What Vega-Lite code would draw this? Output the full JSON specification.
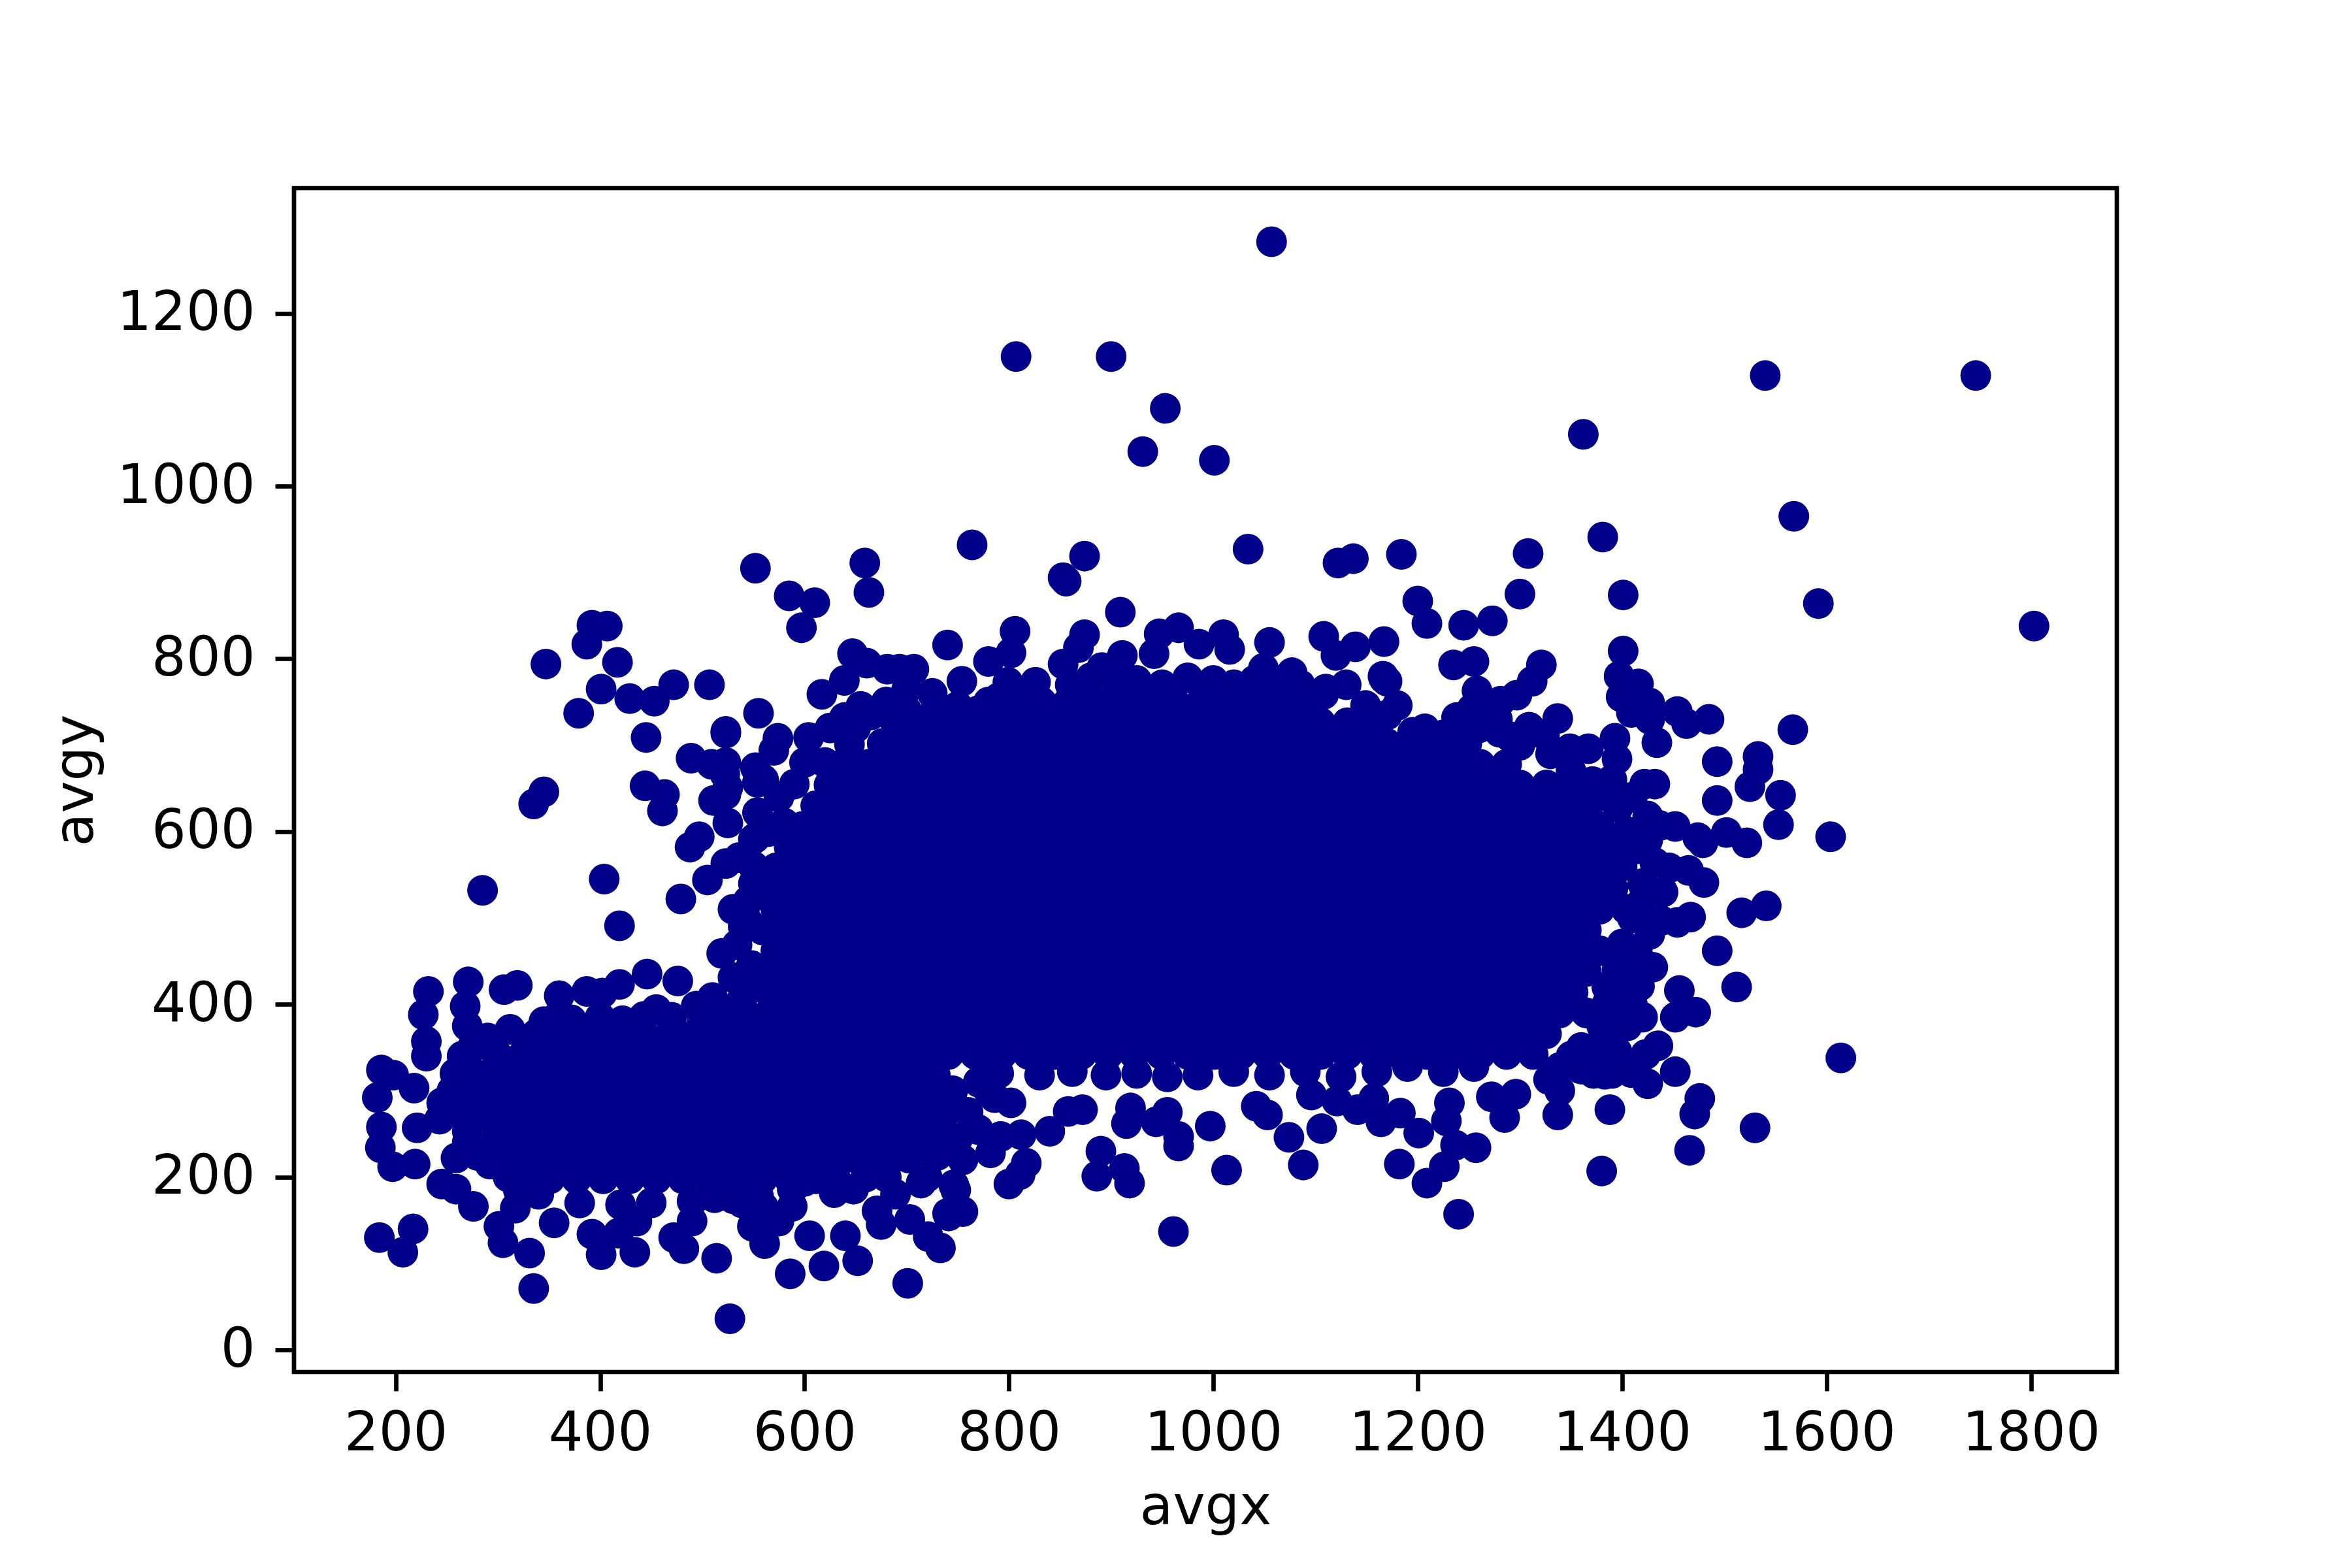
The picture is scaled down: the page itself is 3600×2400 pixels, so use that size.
{"$schema":"https://vega.github.io/schema/vega-lite/v6.json","width":2790,"height":1812,"autosize":{"type":"none"},"padding":{"left":450,"top":288,"right":360,"bottom":300},"background":"white","config":{"view":{"stroke":"black","strokeWidth":6.67},"axis":{"grid":false,"domain":false,"tickColor":"black","tickSize":29,"tickWidth":6.67,"labelFont":"DejaVu Sans","labelFontSize":83,"labelColor":"black","titleFont":"DejaVu Sans","titleFontSize":83,"titleFontWeight":"normal","titleColor":"black","labelOverlap":false,"labelFlush":false,"labelBound":false,"labelLimit":1000,"format":"d"}},"mark":{"type":"circle","color":"#00008b","opacity":1,"size":2209,"clip":false},"encoding":{"x":{"field":"avgx","type":"quantitative","title":"avgx","scale":{"domain":[100.5,1884],"nice":false,"zero":false},"axis":{"values":[200,400,600,800,1000,1200,1400,1600,1800],"labelPadding":24,"titlePadding":30}},"y":{"field":"avgy","type":"quantitative","title":"avgy","scale":{"domain":[-25.7,1345],"nice":false,"zero":false},"axis":{"values":[0,200,400,600,800,1000,1200],"labelPadding":31,"titlePadding":92}}},"data":{"values":[
{"avgx":1057,"avgy":1283},{"avgx":807,"avgy":1150},{"avgx":900,"avgy":1150},{"avgx":1540,"avgy":1128},{"avgx":1746,"avgy":1128},{"avgx":1362,"avgy":1060},{"avgx":953,"avgy":1090},{"avgx":931,"avgy":1040},{"avgx":1001,"avgy":1030},{"avgx":1568,"avgy":965},{"avgx":1381,"avgy":941},{"avgx":764,"avgy":932},{"avgx":1034,"avgy":927},{"avgx":874,"avgy":919},{"avgx":1308,"avgy":922},{"avgx":1184,"avgy":921},{"avgx":1137,"avgy":916},{"avgx":1122,"avgy":911},{"avgx":659,"avgy":911},{"avgx":552,"avgy":905},{"avgx":853,"avgy":894},{"avgx":856,"avgy":890},{"avgx":663,"avgy":877},{"avgx":1401,"avgy":874},{"avgx":585,"avgy":873},{"avgx":1300,"avgy":875},{"avgx":1200,"avgy":867},{"avgx":610,"avgy":865},{"avgx":1592,"avgy":864},{"avgx":909,"avgy":854},{"avgx":1273,"avgy":844},{"avgx":1245,"avgy":839},{"avgx":1209,"avgy":841},{"avgx":597,"avgy":836},{"avgx":1803,"avgy":838},{"avgx":806,"avgy":832},{"avgx":802,"avgy":807},{"avgx":740,"avgy":816},{"avgx":780,"avgy":797},{"avgx":647,"avgy":806},{"avgx":661,"avgy":795},{"avgx":681,"avgy":788},{"avgx":693,"avgy":788},{"avgx":707,"avgy":788},{"avgx":639,"avgy":775},{"avgx":617,"avgy":759},{"avgx":754,"avgy":774},{"avgx":799,"avgy":773},{"avgx":826,"avgy":773},{"avgx":874,"avgy":828},{"avgx":868,"avgy":813},{"avgx":853,"avgy":794},{"avgx":911,"avgy":804},{"avgx":891,"avgy":790},{"avgx":947,"avgy":829},{"avgx":966,"avgy":836},{"avgx":942,"avgy":806},{"avgx":986,"avgy":817},{"avgx":1010,"avgy":828},{"avgx":1016,"avgy":811},{"avgx":1055,"avgy":819},{"avgx":1077,"avgy":784},{"avgx":1049,"avgy":789},{"avgx":1108,"avgy":826},{"avgx":1120,"avgy":804},{"avgx":1139,"avgy":814},{"avgx":1167,"avgy":820},{"avgx":1167,"avgy":777},{"avgx":1180,"avgy":746},{"avgx":1149,"avgy":746},{"avgx":1207,"avgy":719},{"avgx":1108,"avgy":759},{"avgx":555,"avgy":737},{"avgx":523,"avgy":714},{"avgx":639,"avgy":732},{"avgx":604,"avgy":709},{"avgx":574,"avgy":708},{"avgx":644,"avgy":701},{"avgx":570,"avgy":694},{"avgx":552,"avgy":674},{"avgx":523,"avgy":680},{"avgx":525,"avgy":651},{"avgx":554,"avgy":657},{"avgx":554,"avgy":622},{"avgx":525,"avgy":610},{"avgx":552,"avgy":593},{"avgx":536,"avgy":570},{"avgx":530,"avgy":510},{"avgx":1235,"avgy":793},{"avgx":1255,"avgy":797},{"avgx":1321,"avgy":793},{"avgx":1401,"avgy":809},{"avgx":1166,"avgy":780},{"avgx":1170,"avgy":774},{"avgx":1312,"avgy":774},{"avgx":1297,"avgy":758},{"avgx":1258,"avgy":763},{"avgx":1281,"avgy":751},{"avgx":1253,"avgy":742},{"avgx":1238,"avgy":732},{"avgx":1278,"avgy":730},{"avgx":1337,"avgy":731},{"avgx":1309,"avgy":721},{"avgx":1324,"avgy":712},{"avgx":1397,"avgy":780},{"avgx":1416,"avgy":771},{"avgx":1399,"avgy":756},{"avgx":1427,"avgy":749},{"avgx":1409,"avgy":738},{"avgx":1427,"avgy":730},{"avgx":1454,"avgy":739},{"avgx":1463,"avgy":725},{"avgx":1485,"avgy":730},{"avgx":1567,"avgy":718},{"avgx":1393,"avgy":708},{"avgx":1434,"avgy":703},{"avgx":1349,"avgy":696},{"avgx":1367,"avgy":696},{"avgx":1395,"avgy":684},{"avgx":1493,"avgy":681},{"avgx":1533,"avgy":687},{"avgx":1533,"avgy":672},{"avgx":1525,"avgy":652},{"avgx":1555,"avgy":642},{"avgx":1493,"avgy":636},{"avgx":1432,"avgy":655},{"avgx":1422,"avgy":655},{"avgx":1371,"avgy":658},{"avgx":1396,"avgy":628},{"avgx":1425,"avgy":618},{"avgx":1437,"avgy":607},{"avgx":1452,"avgy":606},{"avgx":1474,"avgy":593},{"avgx":1502,"avgy":599},{"avgx":1522,"avgy":587},{"avgx":1553,"avgy":608},{"avgx":1604,"avgy":594},{"avgx":1479,"avgy":587},{"avgx":1432,"avgy":564},{"avgx":1446,"avgy":558},{"avgx":1465,"avgy":555},{"avgx":1480,"avgy":541},{"avgx":1419,"avgy":518},{"avgx":1517,"avgy":506},{"avgx":1541,"avgy":514},{"avgx":1467,"avgy":501},{"avgx":1454,"avgy":495},{"avgx":1438,"avgy":497},{"avgx":1427,"avgy":481},{"avgx":1493,"avgy":462},{"avgx":1512,"avgy":420},{"avgx":1430,"avgy":443},{"avgx":1456,"avgy":416},{"avgx":1417,"avgy":421},{"avgx":1472,"avgy":391},{"avgx":1452,"avgy":385},{"avgx":1399,"avgy":400},{"avgx":1396,"avgy":373},{"avgx":1435,"avgy":352},{"avgx":1380,"avgy":344},{"avgx":1423,"avgy":342},{"avgx":1452,"avgy":322},{"avgx":1409,"avgy":321},{"avgx":1425,"avgy":308},{"avgx":1372,"avgy":320},{"avgx":1383,"avgy":319},{"avgx":1339,"avgy":327},{"avgx":1328,"avgy":313},{"avgx":1339,"avgy":300},{"avgx":1296,"avgy":296},{"avgx":1285,"avgy":269},{"avgx":1337,"avgy":272},{"avgx":1388,"avgy":278},{"avgx":1476,"avgy":291},{"avgx":1471,"avgy":273},{"avgx":1530,"avgy":257},{"avgx":1466,"avgy":231},{"avgx":1380,"avgy":207},{"avgx":1614,"avgy":338},{"avgx":1240,"avgy":157},{"avgx":961,"avgy":137},{"avgx":1272,"avgy":293},{"avgx":1257,"avgy":234},{"avgx":1237,"avgy":237},{"avgx":1226,"avgy":212},{"avgx":1209,"avgy":193},{"avgx":1182,"avgy":215},{"avgx":1201,"avgy":251},{"avgx":1228,"avgy":265},{"avgx":1231,"avgy":286},{"avgx":1183,"avgy":274},{"avgx":1164,"avgy":264},{"avgx":1157,"avgy":291},{"avgx":1141,"avgy":278},{"avgx":1106,"avgy":256},{"avgx":1074,"avgy":246},{"avgx":1088,"avgy":214},{"avgx":1053,"avgy":272},{"avgx":1042,"avgy":282},{"avgx":1096,"avgy":295},{"avgx":1121,"avgy":288},{"avgx":997,"avgy":259},{"avgx":1013,"avgy":208},{"avgx":966,"avgy":247},{"avgx":966,"avgy":236},{"avgx":944,"avgy":264},{"avgx":955,"avgy":275},{"avgx":915,"avgy":262},{"avgx":919,"avgy":280},{"avgx":890,"avgy":230},{"avgx":886,"avgy":201},{"avgx":913,"avgy":210},{"avgx":918,"avgy":193},{"avgx":840,"avgy":253},{"avgx":812,"avgy":249},{"avgx":792,"avgy":247},{"avgx":782,"avgy":228},{"avgx":817,"avgy":216},{"avgx":811,"avgy":203},{"avgx":800,"avgy":192},{"avgx":746,"avgy":191},{"avgx":755,"avgy":160},{"avgx":740,"avgy":158},{"avgx":748,"avgy":185},{"avgx":721,"avgy":131},{"avgx":733,"avgy":118},{"avgx":701,"avgy":77},{"avgx":802,"avgy":286},{"avgx":786,"avgy":292},{"avgx":872,"avgy":278},{"avgx":858,"avgy":276},{"avgx":285,"avgy":532},{"avgx":404,"avgy":545},{"avgx":419,"avgy":491},{"avgx":479,"avgy":522},{"avgx":505,"avgy":544},{"avgx":232,"avgy":415},{"avgx":271,"avgy":426},{"avgx":306,"avgy":417},{"avgx":319,"avgy":422},{"avgx":360,"avgy":410},{"avgx":387,"avgy":415},{"avgx":402,"avgy":413},{"avgx":419,"avgy":423},{"avgx":446,"avgy":435},{"avgx":476,"avgy":427},{"avgx":510,"avgy":408},{"avgx":494,"avgy":398},{"avgx":455,"avgy":394},{"avgx":443,"avgy":386},{"avgx":422,"avgy":381},{"avgx":360,"avgy":388},{"avgx":268,"avgy":398},{"avgx":227,"avgy":388},{"avgx":270,"avgy":375},{"avgx":230,"avgy":357},{"avgx":230,"avgy":340},{"avgx":290,"avgy":361},{"avgx":312,"avgy":371},{"avgx":334,"avgy":357},{"avgx":543,"avgy":373},{"avgx":186,"avgy":324},{"avgx":198,"avgy":318},{"avgx":218,"avgy":303},{"avgx":182,"avgy":292},{"avgx":186,"avgy":258},{"avgx":185,"avgy":234},{"avgx":197,"avgy":212},{"avgx":219,"avgy":215},{"avgx":245,"avgy":286},{"avgx":268,"avgy":296},{"avgx":221,"avgy":257},{"avgx":243,"avgy":267},{"avgx":270,"avgy":253},{"avgx":259,"avgy":222},{"avgx":292,"avgy":215},{"avgx":245,"avgy":192},{"avgx":259,"avgy":186},{"avgx":276,"avgy":166},{"avgx":317,"avgy":164},{"avgx":301,"avgy":143},{"avgx":305,"avgy":124},{"avgx":331,"avgy":112},{"avgx":335,"avgy":71},{"avgx":217,"avgy":140},{"avgx":184,"avgy":130},{"avgx":207,"avgy":113},{"avgx":355,"avgy":147},{"avgx":392,"avgy":134},{"avgx":401,"avgy":110},{"avgx":434,"avgy":113},{"avgx":418,"avgy":135},{"avgx":436,"avgy":149},{"avgx":482,"avgy":117},{"avgx":472,"avgy":130},{"avgx":490,"avgy":149},{"avgx":514,"avgy":106},{"avgx":549,"avgy":143},{"avgx":561,"avgy":123},{"avgx":575,"avgy":149},{"avgx":588,"avgy":166},{"avgx":605,"avgy":132},{"avgx":640,"avgy":132},{"avgx":586,"avgy":88},{"avgx":619,"avgy":97},{"avgx":652,"avgy":103},{"avgx":527,"avgy":36},{"avgx":675,"avgy":145},{"avgx":671,"avgy":161},{"avgx":703,"avgy":151},{"avgx":741,"avgy":155},{"avgx":714,"avgy":193},{"avgx":689,"avgy":180},{"avgx":629,"avgy":182},{"avgx":648,"avgy":186},{"avgx":588,"avgy":186},{"avgx":512,"avgy":176},{"avgx":539,"avgy":170},{"avgx":555,"avgy":178},{"avgx":347,"avgy":794},{"avgx":387,"avgy":817},{"avgx":392,"avgy":839},{"avgx":407,"avgy":838},{"avgx":417,"avgy":796},{"avgx":401,"avgy":765},{"avgx":379,"avgy":737},{"avgx":429,"avgy":754},{"avgx":453,"avgy":751},{"avgx":472,"avgy":770},{"avgx":507,"avgy":770},{"avgx":445,"avgy":709},{"avgx":444,"avgy":653},{"avgx":463,"avgy":643},{"avgx":461,"avgy":624},{"avgx":345,"avgy":646},{"avgx":335,"avgy":632},{"avgx":489,"avgy":685},{"avgx":509,"avgy":678},{"avgx":522,"avgy":667},{"avgx":523,"avgy":716},{"avgx":511,"avgy":636},{"avgx":523,"avgy":643},{"avgx":497,"avgy":594},{"avgx":488,"avgy":582},{"avgx":523,"avgy":563},{"avgx":550,"avgy":591},{"avgx":519,"avgy":459},{"avgx":534,"avgy":469},{"avgx":530,"avgy":431},{"avgx":539,"avgy":406},{"avgx":568,"avgy":410},{"avgx":590,"avgy":483},{"avgx":550,"avgy":540},{"avgx":545,"avgy":495},
{"avgx":720,"avgy":300},{"avgx":745,"avgy":300},{"avgx":770,"avgy":310},{"avgx":735,"avgy":270},{"avgx":760,"avgy":275},{"avgx":780,"avgy":300},{"avgx":790,"avgy":320},{"avgx":750,"avgy":245},{"avgx":725,"avgy":250},{"avgx":770,"avgy":255},{"avgx":730,"avgy":225},{"avgx":755,"avgy":220},{"avgx":720,"avgy":200},{"avgx":1385,"avgy":400},{"avgx":1380,"avgy":375},{"avgx":1360,"avgy":350},{"avgx":1350,"avgy":340},{"avgx":1395,"avgy":345},{"avgx":1405,"avgy":375},{"avgx":1390,"avgy":320},{"avgx":1410,"avgy":400},{"avgx":1420,"avgy":385},{"avgx":1360,"avgy":325},{"avgx":1300,"avgy":700},{"avgx":1280,"avgy":715},{"avgx":1330,"avgy":690},{"avgx":1350,"avgy":670},{"avgx":1390,"avgy":660},{"avgx":1375,"avgy":640},{"avgx":1410,"avgy":640},{"avgx":1405,"avgy":600},{"avgx":1415,"avgy":580},{"avgx":1400,"avgy":560},{"avgx":1425,"avgy":590},{"avgx":1420,"avgy":540},{"avgx":1440,"avgy":530},{"avgx":1410,"avgy":500},{"avgx":1400,"avgy":470},{"avgx":1415,"avgy":460},{"avgx":1395,"avgy":440},{"avgx":1405,"avgy":430},{"avgx":1385,"avgy":420},{"avgx":860,"avgy":770},{"avgx":880,"avgy":778},{"avgx":905,"avgy":772},{"avgx":925,"avgy":775},{"avgx":950,"avgy":770},{"avgx":975,"avgy":778},{"avgx":1000,"avgy":775},{"avgx":1020,"avgy":770},{"avgx":1040,"avgy":775},{"avgx":1060,"avgy":770},{"avgx":1085,"avgy":770},{"avgx":1110,"avgy":765},{"avgx":1130,"avgy":770},{"avgx":1150,"avgy":725},{"avgx":1170,"avgy":735},{"avgx":1195,"avgy":715},{"avgx":1225,"avgy":712},{"avgx":1260,"avgy":720},{"avgx":1290,"avgy":710},{"avgx":810,"avgy":760},{"avgx":790,"avgy":755},{"avgx":770,"avgy":740},{"avgx":750,"avgy":745},{"avgx":725,"avgy":735},{"avgx":700,"avgy":740},{"avgx":680,"avgy":750},{"avgx":665,"avgy":735},{"avgx":650,"avgy":720},{"avgx":700,"avgy":765},{"avgx":725,"avgy":760},{"avgx":560,"avgy":660},{"avgx":575,"avgy":640},{"avgx":590,"avgy":655},{"avgx":600,"avgy":680},{"avgx":620,"avgy":680},{"avgx":625,"avgy":720},{"avgx":655,"avgy":745},{"avgx":580,"avgy":610},{"avgx":565,"avgy":600},{"avgx":550,"avgy":560},{"avgx":545,"avgy":520},{"avgx":540,"avgy":490},{"avgx":548,"avgy":445},{"avgx":555,"avgy":420},{"avgx":575,"avgy":400},{"avgx":520,"avgy":395},{"avgx":535,"avgy":390},{"avgx":560,"avgy":385},{"avgx":275,"avgy":350},{"avgx":265,"avgy":340},{"avgx":258,"avgy":320},{"avgx":255,"avgy":300},{"avgx":262,"avgy":275},{"avgx":270,"avgy":240},{"avgx":280,"avgy":225},{"avgx":295,"avgy":235},{"avgx":310,"avgy":200},{"avgx":320,"avgy":185},{"avgx":340,"avgy":180},{"avgx":380,"avgy":170},{"avgx":420,"avgy":168},{"avgx":450,"avgy":170},{"avgx":490,"avgy":172},{"avgx":530,"avgy":175},{"avgx":560,"avgy":165},{"avgx":600,"avgy":195},{"avgx":630,"avgy":200},{"avgx":660,"avgy":200},{"avgx":680,"avgy":200},{"avgx":345,"avgy":380},{"avgx":372,"avgy":382},{"avgx":400,"avgy":385},{"avgx":470,"avgy":385},{"avgx":500,"avgy":380},{"avgx":525,"avgy":385},{"avgx":555,"avgy":380},{"avgx":775,"avgy":316},{"avgx":830,"avgy":318},{"avgx":862,"avgy":322},{"avgx":895,"avgy":318},{"avgx":925,"avgy":320},{"avgx":955,"avgy":316},{"avgx":985,"avgy":318},{"avgx":1020,"avgy":322},{"avgx":1055,"avgy":318},{"avgx":1090,"avgy":322},{"avgx":1125,"avgy":316},{"avgx":1160,"avgy":322},{"avgx":1190,"avgy":328},{"avgx":1225,"avgy":322},{"avgx":1255,"avgy":328},
{"avgx":780,"avgy":750},{"avgx":806,"avgy":750},{"avgx":832,"avgy":750},{"avgx":858,"avgy":750},{"avgx":884,"avgy":750},{"avgx":910,"avgy":750},{"avgx":936,"avgy":750},{"avgx":962,"avgy":750},{"avgx":988,"avgy":750},{"avgx":1014,"avgy":750},{"avgx":1040,"avgy":750},{"avgx":1066,"avgy":750},{"avgx":1092,"avgy":750},
{"avgx":689,"avgy":726},{"avgx":715,"avgy":726},{"avgx":741,"avgy":726},{"avgx":767,"avgy":726},{"avgx":793,"avgy":726},{"avgx":819,"avgy":726},{"avgx":845,"avgy":726},{"avgx":871,"avgy":726},{"avgx":897,"avgy":726},{"avgx":923,"avgy":726},{"avgx":949,"avgy":726},{"avgx":975,"avgy":726},{"avgx":1001,"avgy":726},{"avgx":1027,"avgy":726},{"avgx":1053,"avgy":726},{"avgx":1079,"avgy":726},{"avgx":1105,"avgy":726},{"avgx":1131,"avgy":726},{"avgx":1157,"avgy":726},
{"avgx":676,"avgy":702},{"avgx":702,"avgy":702},{"avgx":728,"avgy":702},{"avgx":754,"avgy":702},{"avgx":780,"avgy":702},{"avgx":806,"avgy":702},{"avgx":832,"avgy":702},{"avgx":858,"avgy":702},{"avgx":884,"avgy":702},{"avgx":910,"avgy":702},{"avgx":936,"avgy":702},{"avgx":962,"avgy":702},{"avgx":988,"avgy":702},{"avgx":1014,"avgy":702},{"avgx":1040,"avgy":702},{"avgx":1066,"avgy":702},{"avgx":1092,"avgy":702},{"avgx":1118,"avgy":702},{"avgx":1144,"avgy":702},{"avgx":1170,"avgy":702},{"avgx":1196,"avgy":702},{"avgx":1222,"avgy":702},{"avgx":1248,"avgy":702},
{"avgx":637,"avgy":678},{"avgx":663,"avgy":678},{"avgx":689,"avgy":678},{"avgx":715,"avgy":678},{"avgx":741,"avgy":678},{"avgx":767,"avgy":678},{"avgx":793,"avgy":678},{"avgx":819,"avgy":678},{"avgx":845,"avgy":678},{"avgx":871,"avgy":678},{"avgx":897,"avgy":678},{"avgx":923,"avgy":678},{"avgx":949,"avgy":678},{"avgx":975,"avgy":678},{"avgx":1001,"avgy":678},{"avgx":1027,"avgy":678},{"avgx":1053,"avgy":678},{"avgx":1079,"avgy":678},{"avgx":1105,"avgy":678},{"avgx":1131,"avgy":678},{"avgx":1157,"avgy":678},{"avgx":1183,"avgy":678},{"avgx":1209,"avgy":678},{"avgx":1235,"avgy":678},{"avgx":1261,"avgy":678},{"avgx":1287,"avgy":678},
{"avgx":624,"avgy":654},{"avgx":650,"avgy":654},{"avgx":676,"avgy":654},{"avgx":702,"avgy":654},{"avgx":728,"avgy":654},{"avgx":754,"avgy":654},{"avgx":780,"avgy":654},{"avgx":806,"avgy":654},{"avgx":832,"avgy":654},{"avgx":858,"avgy":654},{"avgx":884,"avgy":654},{"avgx":910,"avgy":654},{"avgx":936,"avgy":654},{"avgx":962,"avgy":654},{"avgx":988,"avgy":654},{"avgx":1014,"avgy":654},{"avgx":1040,"avgy":654},{"avgx":1066,"avgy":654},{"avgx":1092,"avgy":654},{"avgx":1118,"avgy":654},{"avgx":1144,"avgy":654},{"avgx":1170,"avgy":654},{"avgx":1196,"avgy":654},{"avgx":1222,"avgy":654},{"avgx":1248,"avgy":654},{"avgx":1274,"avgy":654},{"avgx":1300,"avgy":654},{"avgx":1326,"avgy":654},{"avgx":1352,"avgy":654},
{"avgx":611,"avgy":630},{"avgx":637,"avgy":630},{"avgx":663,"avgy":630},{"avgx":689,"avgy":630},{"avgx":715,"avgy":630},{"avgx":741,"avgy":630},{"avgx":767,"avgy":630},{"avgx":793,"avgy":630},{"avgx":819,"avgy":630},{"avgx":845,"avgy":630},{"avgx":871,"avgy":630},{"avgx":897,"avgy":630},{"avgx":923,"avgy":630},{"avgx":949,"avgy":630},{"avgx":975,"avgy":630},{"avgx":1001,"avgy":630},{"avgx":1027,"avgy":630},{"avgx":1053,"avgy":630},{"avgx":1079,"avgy":630},{"avgx":1105,"avgy":630},{"avgx":1131,"avgy":630},{"avgx":1157,"avgy":630},{"avgx":1183,"avgy":630},{"avgx":1209,"avgy":630},{"avgx":1235,"avgy":630},{"avgx":1261,"avgy":630},{"avgx":1287,"avgy":630},{"avgx":1313,"avgy":630},{"avgx":1339,"avgy":630},{"avgx":1365,"avgy":630},
{"avgx":598,"avgy":606},{"avgx":624,"avgy":606},{"avgx":650,"avgy":606},{"avgx":676,"avgy":606},{"avgx":702,"avgy":606},{"avgx":728,"avgy":606},{"avgx":754,"avgy":606},{"avgx":780,"avgy":606},{"avgx":806,"avgy":606},{"avgx":832,"avgy":606},{"avgx":858,"avgy":606},{"avgx":884,"avgy":606},{"avgx":910,"avgy":606},{"avgx":936,"avgy":606},{"avgx":962,"avgy":606},{"avgx":988,"avgy":606},{"avgx":1014,"avgy":606},{"avgx":1040,"avgy":606},{"avgx":1066,"avgy":606},{"avgx":1092,"avgy":606},{"avgx":1118,"avgy":606},{"avgx":1144,"avgy":606},{"avgx":1170,"avgy":606},{"avgx":1196,"avgy":606},{"avgx":1222,"avgy":606},{"avgx":1248,"avgy":606},{"avgx":1274,"avgy":606},{"avgx":1300,"avgy":606},{"avgx":1326,"avgy":606},{"avgx":1352,"avgy":606},{"avgx":1378,"avgy":606},
{"avgx":585,"avgy":582},{"avgx":611,"avgy":582},{"avgx":637,"avgy":582},{"avgx":663,"avgy":582},{"avgx":689,"avgy":582},{"avgx":715,"avgy":582},{"avgx":741,"avgy":582},{"avgx":767,"avgy":582},{"avgx":793,"avgy":582},{"avgx":819,"avgy":582},{"avgx":845,"avgy":582},{"avgx":871,"avgy":582},{"avgx":897,"avgy":582},{"avgx":923,"avgy":582},{"avgx":949,"avgy":582},{"avgx":975,"avgy":582},{"avgx":1001,"avgy":582},{"avgx":1027,"avgy":582},{"avgx":1053,"avgy":582},{"avgx":1079,"avgy":582},{"avgx":1105,"avgy":582},{"avgx":1131,"avgy":582},{"avgx":1157,"avgy":582},{"avgx":1183,"avgy":582},{"avgx":1209,"avgy":582},{"avgx":1235,"avgy":582},{"avgx":1261,"avgy":582},{"avgx":1287,"avgy":582},{"avgx":1313,"avgy":582},{"avgx":1339,"avgy":582},{"avgx":1365,"avgy":582},{"avgx":1391,"avgy":582},
{"avgx":572,"avgy":558},{"avgx":598,"avgy":558},{"avgx":624,"avgy":558},{"avgx":650,"avgy":558},{"avgx":676,"avgy":558},{"avgx":702,"avgy":558},{"avgx":728,"avgy":558},{"avgx":754,"avgy":558},{"avgx":780,"avgy":558},{"avgx":806,"avgy":558},{"avgx":832,"avgy":558},{"avgx":858,"avgy":558},{"avgx":884,"avgy":558},{"avgx":910,"avgy":558},{"avgx":936,"avgy":558},{"avgx":962,"avgy":558},{"avgx":988,"avgy":558},{"avgx":1014,"avgy":558},{"avgx":1040,"avgy":558},{"avgx":1066,"avgy":558},{"avgx":1092,"avgy":558},{"avgx":1118,"avgy":558},{"avgx":1144,"avgy":558},{"avgx":1170,"avgy":558},{"avgx":1196,"avgy":558},{"avgx":1222,"avgy":558},{"avgx":1248,"avgy":558},{"avgx":1274,"avgy":558},{"avgx":1300,"avgy":558},{"avgx":1326,"avgy":558},{"avgx":1352,"avgy":558},{"avgx":1378,"avgy":558},
{"avgx":559,"avgy":534},{"avgx":585,"avgy":534},{"avgx":611,"avgy":534},{"avgx":637,"avgy":534},{"avgx":663,"avgy":534},{"avgx":689,"avgy":534},{"avgx":715,"avgy":534},{"avgx":741,"avgy":534},{"avgx":767,"avgy":534},{"avgx":793,"avgy":534},{"avgx":819,"avgy":534},{"avgx":845,"avgy":534},{"avgx":871,"avgy":534},{"avgx":897,"avgy":534},{"avgx":923,"avgy":534},{"avgx":949,"avgy":534},{"avgx":975,"avgy":534},{"avgx":1001,"avgy":534},{"avgx":1027,"avgy":534},{"avgx":1053,"avgy":534},{"avgx":1079,"avgy":534},{"avgx":1105,"avgy":534},{"avgx":1131,"avgy":534},{"avgx":1157,"avgy":534},{"avgx":1183,"avgy":534},{"avgx":1209,"avgy":534},{"avgx":1235,"avgy":534},{"avgx":1261,"avgy":534},{"avgx":1287,"avgy":534},{"avgx":1313,"avgy":534},{"avgx":1339,"avgy":534},{"avgx":1365,"avgy":534},{"avgx":1391,"avgy":534},
{"avgx":572,"avgy":510},{"avgx":598,"avgy":510},{"avgx":624,"avgy":510},{"avgx":650,"avgy":510},{"avgx":676,"avgy":510},{"avgx":702,"avgy":510},{"avgx":728,"avgy":510},{"avgx":754,"avgy":510},{"avgx":780,"avgy":510},{"avgx":806,"avgy":510},{"avgx":832,"avgy":510},{"avgx":858,"avgy":510},{"avgx":884,"avgy":510},{"avgx":910,"avgy":510},{"avgx":936,"avgy":510},{"avgx":962,"avgy":510},{"avgx":988,"avgy":510},{"avgx":1014,"avgy":510},{"avgx":1040,"avgy":510},{"avgx":1066,"avgy":510},{"avgx":1092,"avgy":510},{"avgx":1118,"avgy":510},{"avgx":1144,"avgy":510},{"avgx":1170,"avgy":510},{"avgx":1196,"avgy":510},{"avgx":1222,"avgy":510},{"avgx":1248,"avgy":510},{"avgx":1274,"avgy":510},{"avgx":1300,"avgy":510},{"avgx":1326,"avgy":510},{"avgx":1352,"avgy":510},{"avgx":1378,"avgy":510},{"avgx":1404,"avgy":510},
{"avgx":559,"avgy":486},{"avgx":585,"avgy":486},{"avgx":611,"avgy":486},{"avgx":637,"avgy":486},{"avgx":663,"avgy":486},{"avgx":689,"avgy":486},{"avgx":715,"avgy":486},{"avgx":741,"avgy":486},{"avgx":767,"avgy":486},{"avgx":793,"avgy":486},{"avgx":819,"avgy":486},{"avgx":845,"avgy":486},{"avgx":871,"avgy":486},{"avgx":897,"avgy":486},{"avgx":923,"avgy":486},{"avgx":949,"avgy":486},{"avgx":975,"avgy":486},{"avgx":1001,"avgy":486},{"avgx":1027,"avgy":486},{"avgx":1053,"avgy":486},{"avgx":1079,"avgy":486},{"avgx":1105,"avgy":486},{"avgx":1131,"avgy":486},{"avgx":1157,"avgy":486},{"avgx":1183,"avgy":486},{"avgx":1209,"avgy":486},{"avgx":1235,"avgy":486},{"avgx":1261,"avgy":486},{"avgx":1287,"avgy":486},{"avgx":1313,"avgy":486},{"avgx":1339,"avgy":486},{"avgx":1365,"avgy":486},
{"avgx":572,"avgy":462},{"avgx":598,"avgy":462},{"avgx":624,"avgy":462},{"avgx":650,"avgy":462},{"avgx":676,"avgy":462},{"avgx":702,"avgy":462},{"avgx":728,"avgy":462},{"avgx":754,"avgy":462},{"avgx":780,"avgy":462},{"avgx":806,"avgy":462},{"avgx":832,"avgy":462},{"avgx":858,"avgy":462},{"avgx":884,"avgy":462},{"avgx":910,"avgy":462},{"avgx":936,"avgy":462},{"avgx":962,"avgy":462},{"avgx":988,"avgy":462},{"avgx":1014,"avgy":462},{"avgx":1040,"avgy":462},{"avgx":1066,"avgy":462},{"avgx":1092,"avgy":462},{"avgx":1118,"avgy":462},{"avgx":1144,"avgy":462},{"avgx":1170,"avgy":462},{"avgx":1196,"avgy":462},{"avgx":1222,"avgy":462},{"avgx":1248,"avgy":462},{"avgx":1274,"avgy":462},{"avgx":1300,"avgy":462},{"avgx":1326,"avgy":462},{"avgx":1352,"avgy":462},{"avgx":1378,"avgy":462},
{"avgx":559,"avgy":438},{"avgx":585,"avgy":438},{"avgx":611,"avgy":438},{"avgx":637,"avgy":438},{"avgx":663,"avgy":438},{"avgx":689,"avgy":438},{"avgx":715,"avgy":438},{"avgx":741,"avgy":438},{"avgx":767,"avgy":438},{"avgx":793,"avgy":438},{"avgx":819,"avgy":438},{"avgx":845,"avgy":438},{"avgx":871,"avgy":438},{"avgx":897,"avgy":438},{"avgx":923,"avgy":438},{"avgx":949,"avgy":438},{"avgx":975,"avgy":438},{"avgx":1001,"avgy":438},{"avgx":1027,"avgy":438},{"avgx":1053,"avgy":438},{"avgx":1079,"avgy":438},{"avgx":1105,"avgy":438},{"avgx":1131,"avgy":438},{"avgx":1157,"avgy":438},{"avgx":1183,"avgy":438},{"avgx":1209,"avgy":438},{"avgx":1235,"avgy":438},{"avgx":1261,"avgy":438},{"avgx":1287,"avgy":438},{"avgx":1313,"avgy":438},{"avgx":1339,"avgy":438},{"avgx":1365,"avgy":438},
{"avgx":572,"avgy":414},{"avgx":598,"avgy":414},{"avgx":624,"avgy":414},{"avgx":650,"avgy":414},{"avgx":676,"avgy":414},{"avgx":702,"avgy":414},{"avgx":728,"avgy":414},{"avgx":754,"avgy":414},{"avgx":780,"avgy":414},{"avgx":806,"avgy":414},{"avgx":832,"avgy":414},{"avgx":858,"avgy":414},{"avgx":884,"avgy":414},{"avgx":910,"avgy":414},{"avgx":936,"avgy":414},{"avgx":962,"avgy":414},{"avgx":988,"avgy":414},{"avgx":1014,"avgy":414},{"avgx":1040,"avgy":414},{"avgx":1066,"avgy":414},{"avgx":1092,"avgy":414},{"avgx":1118,"avgy":414},{"avgx":1144,"avgy":414},{"avgx":1170,"avgy":414},{"avgx":1196,"avgy":414},{"avgx":1222,"avgy":414},{"avgx":1248,"avgy":414},{"avgx":1274,"avgy":414},{"avgx":1300,"avgy":414},{"avgx":1326,"avgy":414},{"avgx":1352,"avgy":414},
{"avgx":585,"avgy":390},{"avgx":611,"avgy":390},{"avgx":637,"avgy":390},{"avgx":663,"avgy":390},{"avgx":689,"avgy":390},{"avgx":715,"avgy":390},{"avgx":741,"avgy":390},{"avgx":767,"avgy":390},{"avgx":793,"avgy":390},{"avgx":819,"avgy":390},{"avgx":845,"avgy":390},{"avgx":871,"avgy":390},{"avgx":897,"avgy":390},{"avgx":923,"avgy":390},{"avgx":949,"avgy":390},{"avgx":975,"avgy":390},{"avgx":1001,"avgy":390},{"avgx":1027,"avgy":390},{"avgx":1053,"avgy":390},{"avgx":1079,"avgy":390},{"avgx":1105,"avgy":390},{"avgx":1131,"avgy":390},{"avgx":1157,"avgy":390},{"avgx":1183,"avgy":390},{"avgx":1209,"avgy":390},{"avgx":1235,"avgy":390},{"avgx":1261,"avgy":390},{"avgx":1287,"avgy":390},{"avgx":1313,"avgy":390},{"avgx":1339,"avgy":390},{"avgx":1365,"avgy":390},
{"avgx":338,"avgy":366},{"avgx":364,"avgy":366},{"avgx":390,"avgy":366},{"avgx":416,"avgy":366},{"avgx":442,"avgy":366},{"avgx":468,"avgy":366},{"avgx":494,"avgy":366},{"avgx":520,"avgy":366},{"avgx":546,"avgy":366},{"avgx":572,"avgy":366},{"avgx":598,"avgy":366},{"avgx":624,"avgy":366},{"avgx":650,"avgy":366},{"avgx":676,"avgy":366},{"avgx":702,"avgy":366},{"avgx":728,"avgy":366},{"avgx":754,"avgy":366},{"avgx":780,"avgy":366},{"avgx":806,"avgy":366},{"avgx":832,"avgy":366},{"avgx":858,"avgy":366},{"avgx":884,"avgy":366},{"avgx":910,"avgy":366},{"avgx":936,"avgy":366},{"avgx":962,"avgy":366},{"avgx":988,"avgy":366},{"avgx":1014,"avgy":366},{"avgx":1040,"avgy":366},{"avgx":1066,"avgy":366},{"avgx":1092,"avgy":366},{"avgx":1118,"avgy":366},{"avgx":1144,"avgy":366},{"avgx":1170,"avgy":366},{"avgx":1196,"avgy":366},{"avgx":1222,"avgy":366},{"avgx":1248,"avgy":366},{"avgx":1274,"avgy":366},{"avgx":1300,"avgy":366},{"avgx":1326,"avgy":366},
{"avgx":299,"avgy":342},{"avgx":325,"avgy":342},{"avgx":351,"avgy":342},{"avgx":377,"avgy":342},{"avgx":403,"avgy":342},{"avgx":429,"avgy":342},{"avgx":455,"avgy":342},{"avgx":481,"avgy":342},{"avgx":507,"avgy":342},{"avgx":533,"avgy":342},{"avgx":559,"avgy":342},{"avgx":585,"avgy":342},{"avgx":611,"avgy":342},{"avgx":637,"avgy":342},{"avgx":663,"avgy":342},{"avgx":689,"avgy":342},{"avgx":715,"avgy":342},{"avgx":741,"avgy":342},{"avgx":767,"avgy":342},{"avgx":793,"avgy":342},{"avgx":819,"avgy":342},{"avgx":845,"avgy":342},{"avgx":871,"avgy":342},{"avgx":897,"avgy":342},{"avgx":923,"avgy":342},{"avgx":949,"avgy":342},{"avgx":975,"avgy":342},{"avgx":1001,"avgy":342},{"avgx":1027,"avgy":342},{"avgx":1053,"avgy":342},{"avgx":1079,"avgy":342},{"avgx":1105,"avgy":342},{"avgx":1131,"avgy":342},{"avgx":1157,"avgy":342},{"avgx":1183,"avgy":342},{"avgx":1209,"avgy":342},{"avgx":1235,"avgy":342},{"avgx":1261,"avgy":342},{"avgx":1287,"avgy":342},{"avgx":1313,"avgy":342},
{"avgx":286,"avgy":318},{"avgx":312,"avgy":318},{"avgx":338,"avgy":318},{"avgx":364,"avgy":318},{"avgx":390,"avgy":318},{"avgx":416,"avgy":318},{"avgx":442,"avgy":318},{"avgx":468,"avgy":318},{"avgx":494,"avgy":318},{"avgx":520,"avgy":318},{"avgx":546,"avgy":318},{"avgx":572,"avgy":318},{"avgx":598,"avgy":318},{"avgx":624,"avgy":318},{"avgx":650,"avgy":318},{"avgx":676,"avgy":318},{"avgx":702,"avgy":318},{"avgx":728,"avgy":318},
{"avgx":273,"avgy":294},{"avgx":299,"avgy":294},{"avgx":325,"avgy":294},{"avgx":351,"avgy":294},{"avgx":377,"avgy":294},{"avgx":403,"avgy":294},{"avgx":429,"avgy":294},{"avgx":455,"avgy":294},{"avgx":481,"avgy":294},{"avgx":507,"avgy":294},{"avgx":533,"avgy":294},{"avgx":559,"avgy":294},{"avgx":585,"avgy":294},{"avgx":611,"avgy":294},{"avgx":637,"avgy":294},{"avgx":663,"avgy":294},{"avgx":689,"avgy":294},{"avgx":715,"avgy":294},{"avgx":741,"avgy":294},
{"avgx":286,"avgy":270},{"avgx":312,"avgy":270},{"avgx":338,"avgy":270},{"avgx":364,"avgy":270},{"avgx":390,"avgy":270},{"avgx":416,"avgy":270},{"avgx":442,"avgy":270},{"avgx":468,"avgy":270},{"avgx":494,"avgy":270},{"avgx":520,"avgy":270},{"avgx":546,"avgy":270},{"avgx":572,"avgy":270},{"avgx":598,"avgy":270},{"avgx":624,"avgy":270},{"avgx":650,"avgy":270},{"avgx":676,"avgy":270},{"avgx":702,"avgy":270},{"avgx":728,"avgy":270},
{"avgx":299,"avgy":246},{"avgx":325,"avgy":246},{"avgx":351,"avgy":246},{"avgx":377,"avgy":246},{"avgx":403,"avgy":246},{"avgx":429,"avgy":246},{"avgx":455,"avgy":246},{"avgx":481,"avgy":246},{"avgx":507,"avgy":246},{"avgx":533,"avgy":246},{"avgx":559,"avgy":246},{"avgx":585,"avgy":246},{"avgx":611,"avgy":246},{"avgx":637,"avgy":246},{"avgx":663,"avgy":246},{"avgx":689,"avgy":246},{"avgx":715,"avgy":246},
{"avgx":312,"avgy":222},{"avgx":338,"avgy":222},{"avgx":364,"avgy":222},{"avgx":390,"avgy":222},{"avgx":416,"avgy":222},{"avgx":442,"avgy":222},{"avgx":468,"avgy":222},{"avgx":494,"avgy":222},{"avgx":520,"avgy":222},{"avgx":546,"avgy":222},{"avgx":572,"avgy":222},{"avgx":598,"avgy":222},{"avgx":624,"avgy":222},{"avgx":650,"avgy":222},{"avgx":676,"avgy":222},{"avgx":702,"avgy":222},
{"avgx":325,"avgy":198},{"avgx":351,"avgy":198},{"avgx":377,"avgy":198},{"avgx":403,"avgy":198},{"avgx":429,"avgy":198},{"avgx":455,"avgy":198},{"avgx":481,"avgy":198},{"avgx":507,"avgy":198},{"avgx":533,"avgy":198},{"avgx":559,"avgy":198},{"avgx":585,"avgy":198},{"avgx":611,"avgy":198}
]}}
